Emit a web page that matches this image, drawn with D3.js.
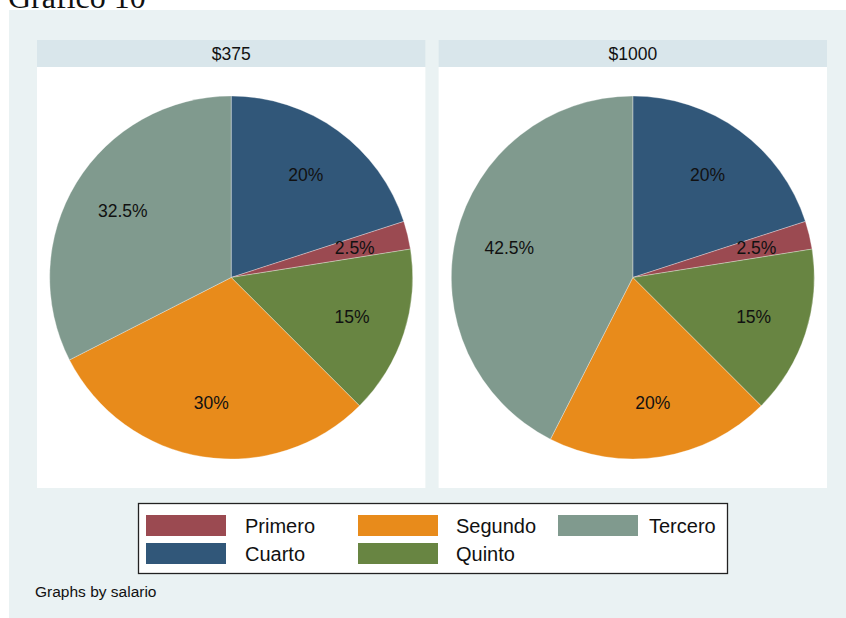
<!DOCTYPE html>
<html>
<head>
<meta charset="utf-8">
<script src="https://cdn.jsdelivr.net/npm/d3@7"></script>
<style>
  body { margin: 0; background: #fff; }
  text { font-family: "Liberation Sans", Arial, sans-serif; fill: #111; }
</style>
</head>
<body>
<script>
// categories in pie order (clockwise from 12 o'clock)
var categories = ["Cuarto", "Primero", "Quinto", "Segundo", "Tercero"];
var panels = ["$375", "$1000"];
var values375 = [20, 2.5, 15, 30, 32.5];
var values1000 = [20, 2.5, 15, 20, 42.5];
var legendOrder = ["Primero", "Segundo", "Tercero", "Cuarto", "Quinto"];

var color = d3.scaleOrdinal()
    .domain(["Primero", "Segundo", "Tercero", "Cuarto", "Quinto"])
    .range(["#9b4a51", "#e88b1b", "#809a8e", "#315779", "#688542"]);

var W = 846, H = 618;
var svg = d3.select("body").append("svg")
    .attr("width", W)
    .attr("height", H);

// title, half cut off at the top
svg.append("text")
    .attr("x", 8)
    .attr("y", 8)
    .style("font-family", "'Liberation Serif', 'Times New Roman', serif")
    .style("font-size", "32px")
    .text("Gráfico 10");

// outer background
svg.append("rect")
    .attr("x", 9).attr("y", 10)
    .attr("width", W - 9).attr("height", H - 10)
    .attr("fill", "#eaf2f3");

var panelX = d3.scaleBand().domain(panels).range([37, 827]).paddingInner(0.033);
var headTop = 40, headBottom = 67, plotBottom = 488;

var pie = d3.pie().sort(null).value(function(d) { return d.value; });

var data = [values375, values1000];

panels.forEach(function(p, i) {
    var x0 = panelX(p), bw = panelX.bandwidth();
    var g = svg.append("g");

    g.append("rect")
        .attr("x", x0).attr("y", headTop)
        .attr("width", bw).attr("height", headBottom - headTop)
        .attr("fill", "#d9e6eb");
    g.append("text")
        .attr("x", x0 + bw / 2).attr("y", headBottom - 7)
        .attr("text-anchor", "middle")
        .style("font-size", "17.5px")
        .text(p);

    g.append("rect")
        .attr("x", x0).attr("y", headBottom)
        .attr("width", bw).attr("height", plotBottom - headBottom)
        .attr("fill", "#fff");

    var r = 181.5;
    var cx = x0 + bw / 2, cy = (headBottom + plotBottom) / 2;
    var arc = d3.arc().innerRadius(0).outerRadius(r);
    var labelArc = d3.arc().innerRadius(r * 0.7).outerRadius(r * 0.7);

    var rows = categories.map(function(c, j) { return { cat: c, value: data[i][j] }; });
    var slices = pie(rows);

    var pg = g.append("g").attr("transform", "translate(" + cx + "," + cy + ")");
    pg.selectAll("path").data(slices).enter().append("path")
        .attr("d", arc)
        .attr("fill", function(d) { return color(d.data.cat); })
        .attr("stroke", "rgba(255,255,255,0.45)")
        .attr("stroke-width", 0.7);

    pg.selectAll("text").data(slices).enter().append("text")
        .attr("transform", function(d) { return "translate(" + labelArc.centroid(d) + ")"; })
        .attr("text-anchor", "middle")
        .attr("dy", "0.35em")
        .style("font-size", "17.5px")
        .text(function(d) { return d.data.value + "%"; });
});

// legend
var lg = svg.append("g");
lg.append("rect")
    .attr("x", 138.5).attr("y", 503.5)
    .attr("width", 589).attr("height", 70)
    .attr("fill", "#fff")
    .attr("stroke", "#222")
    .attr("stroke-width", 1.3);

var colX = [146, 358, 558], textX = [245, 456, 649];
legendOrder.forEach(function(c, k) {
    var col = k % 3, row = Math.floor(k / 3);
    lg.append("rect")
        .attr("x", colX[col]).attr("y", 515 + row * 28)
        .attr("width", 80).attr("height", 21)
        .attr("fill", color(c));
    lg.append("text")
        .attr("x", textX[col]).attr("y", 533 + row * 28)
        .style("font-size", "20px")
        .text(c);
});

svg.append("text")
    .attr("x", 35).attr("y", 597)
    .style("font-size", "15.5px")
    .text("Graphs by salario");
</script>
</body>
</html>
